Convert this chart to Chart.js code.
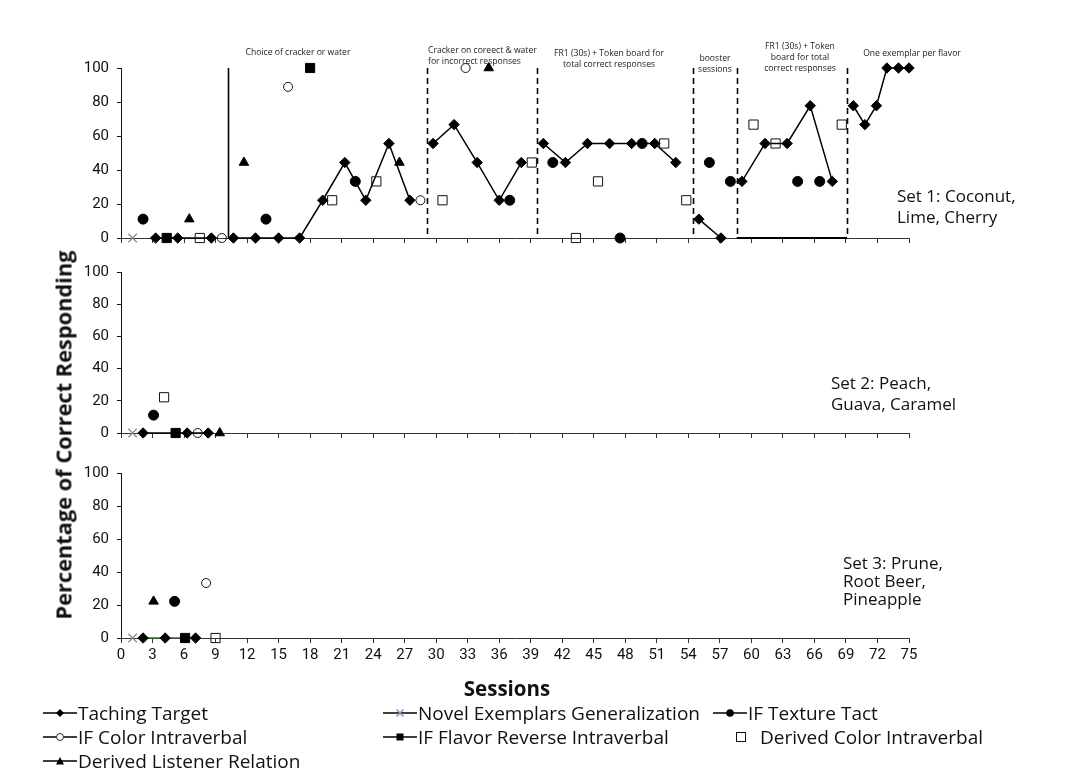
<!DOCTYPE html>
<html>
<head>
<meta charset="utf-8">
<script src="https://cdn.jsdelivr.net/npm/chart.js@4.4.0/dist/chart.umd.min.js"></script>
<style>
  html, body { margin: 0; padding: 0; background: #fff; }
  body { width: 1075px; height: 782px; position: relative; overflow: hidden; font-family: 'Open Sans', sans-serif; color: #111; }
  canvas.panel { position: absolute; left: 0; top: 0; }
  .note { position: absolute; font-size: 8.6px; line-height: 11px; white-space: nowrap; color: #222; }
  .note.c { transform: translateX(-50%); text-align: center; }
  .setlabel { position: absolute; font-size: 17px; line-height: 21px; white-space: nowrap; color: #111; }
  .ytitle { position: absolute; left: 63px; top: 435px; transform: translate(-50%, -50%) rotate(-90deg); font-weight: 700; font-size: 21.8px; white-space: nowrap; }
  .xtitle { position: absolute; left: 507px; top: 688px; transform: translate(-50%, -50%); font-weight: 700; font-size: 20.5px; white-space: nowrap; }
  .leg { position: absolute; display: flex; align-items: center; font-size: 19px; white-space: nowrap; height: 24px; }
  .leg svg { display: block; margin-right: 1px; }
</style>
</head>
<body>
<canvas id="set1" class="panel" width="1075" height="782"></canvas>
<canvas id="set2" class="panel" width="1075" height="782"></canvas>
<canvas id="set3" class="panel" width="1075" height="782"></canvas>

<div class="note c" style="left:298px;top:47px;">Choice of cracker or water</div>
<div class="note" style="left:428px;top:45px;">Cracker on coreect &amp; water<br>for incorrect responses</div>
<div class="note c" style="left:609px;top:48px;">FR1 (30s) + Token board for<br>total correct responses</div>
<div class="note c" style="left:715px;top:53px;">booster<br>sessions</div>
<div class="note c" style="left:800px;top:41px;">FR1 (30s) + Token<br>board for total<br>correct responses</div>
<div class="note c" style="left:912px;top:48px;">One exemplar per flavor</div>

<div class="setlabel" style="left:897px;top:185px;">Set 1: Coconut,<br>Lime, Cherry</div>
<div class="setlabel" style="left:831px;top:372px;">Set 2: Peach,<br>Guava, Caramel</div>
<div class="setlabel" style="left:843px;top:554px;line-height:18px;">Set 3: Prune,<br>Root Beer,<br>Pineapple</div>

<div class="ytitle">Percentage of Correct Responding</div>
<div class="xtitle">Sessions</div>

<div id="legend"></div>

<script>
// ---- axes ----
const sessionMin = 0, sessionMax = 75, sessionStep = 3;
const pctMin = 0, pctMax = 100, pctStep = 20;

// Phase changes in Set 1 (first one is the solid line, rest dashed)
const phaseChanges = [10.2, 29.1, 39.6, 54.4, 58.6, 69.1];

// ---- Set 1: Coconut, Lime, Cherry ----
const s1TargetX = [3.3, 5.4, 8.6, 10.7, 12.8, 15.0, 17.0, 19.2, 21.3, 23.3, 25.5, 27.5,
                   29.7, 31.7, 33.9, 36.0, 38.1,
                   40.2, 42.3, 44.4, 46.5, 48.6, 50.8, 52.8,
                   55.0, 57.1,
                   59.1, 61.3, 63.4, 65.6, 67.7,
                   69.7, 70.8, 71.9, 72.9, 74.0, 75.0];
const s1TargetY = [0, 0, 0, 0, 0, 0, 0, 22.2, 44.4, 22.2, 55.6, 22.2,
                   55.6, 66.7, 44.4, 22.2, 44.4,
                   55.6, 44.4, 55.6, 55.6, 55.6, 55.6, 44.4,
                   11.1, 0,
                   33.3, 55.6, 55.6, 77.8, 33.3,
                   77.8, 66.7, 77.8, 100, 100, 100];
const s1NovelX = [1.1];
const s1NovelY = [0];
const s1TextureX = [2.1, 13.8, 22.3, 37.0, 41.1, 47.5, 49.6, 56.0, 58.0, 64.4, 66.5];
const s1TextureY = [11.1, 11.1, 33.3, 22.2, 44.4, 0, 55.6, 44.4, 33.3, 33.3, 33.3];
const s1ColorIVX = [9.6, 15.9, 28.5, 32.8];
const s1ColorIVY = [0, 88.9, 22.2, 100];
const s1FlavorRevX = [4.35, 18.0];
const s1FlavorRevY = [0, 100];
const s1DerivedColorX = [7.5, 20.1, 24.3, 30.6, 39.1, 43.3, 45.4, 51.7, 53.8, 60.2, 62.3, 68.6];
const s1DerivedColorY = [0, 22.2, 33.3, 22.2, 44.4, 0, 33.3, 55.6, 22.2, 66.7, 55.6, 66.7];
const s1ListenerX = [6.5, 11.7, 26.5, 35.0];
const s1ListenerY = [11.1, 44.4, 44.4, 100];

// ---- Set 2: Peach, Guava, Caramel ----
const s2TargetX = [2.1, 6.3, 8.3];
const s2TargetY = [0, 0, 0];
const s2NovelX = [1.1];
const s2NovelY = [0];
const s2TextureX = [3.1];
const s2TextureY = [11.1];
const s2ColorIVX = [7.3];
const s2ColorIVY = [0];
const s2FlavorRevX = [5.2];
const s2FlavorRevY = [0];
const s2DerivedColorX = [4.1];
const s2DerivedColorY = [22.2];
const s2ListenerX = [9.4];
const s2ListenerY = [0];

// ---- Set 3: Prune, Root Beer, Pineapple ----
const s3TargetX = [2.1, 4.2, 7.1];
const s3TargetY = [0, 0, 0];
const s3NovelX = [1.1];
const s3NovelY = [0];
const s3TextureX = [5.1];
const s3TextureY = [22.2];
const s3ColorIVX = [8.1];
const s3ColorIVY = [33.3];
const s3FlavorRevX = [6.1];
const s3FlavorRevY = [0];
const s3DerivedColorX = [9.0];
const s3DerivedColorY = [0];
const s3ListenerX = [3.1];
const s3ListenerY = [22.2];

const seriesNames = ['Taching Target', 'Novel Exemplars Generalization', 'IF Texture Tact',
  'IF Color Intraverbal', 'IF Flavor Reverse Intraverbal', 'Derived Color Intraverbal',
  'Derived Listener Relation'];

// ---- marker styles ----
const NONE = 'rgba(0,0,0,0)';
const XBLUE = '#6f8fb8';
const markerStyle = [
  { pointStyle: 'rectRot',  radius: 5.2, bg: '#000', border: '#000', bw: 1 },
  { pointStyle: 'crossRot', radius: 6,   bg: NONE,   border: '#7d8898', bw: 1.2 },
  { pointStyle: 'circle',   radius: 5,   bg: '#000', border: '#000', bw: 1 },
  { pointStyle: 'circle',   radius: 4.5, bg: NONE,   border: '#111', bw: 1 },
  { pointStyle: 'rect',     radius: 6.5, bg: '#000', border: '#000', bw: 1 },
  { pointStyle: 'rect',     radius: 6.5, bg: NONE,   border: '#111', bw: 1 },
  { pointStyle: 'triangle', radius: 5.5, bg: '#000', border: '#000', bw: 1 }
];

const zip = (xs, ys) => xs.map((x, i) => ({ x: x, y: ys[i] }));
const crossesPhase = (a, b) => phaseChanges.some(p => (a - p) * (b - p) < 0);

function buildDatasets(pairs, lineColor) {
  return pairs.map((pr, i) => {
    const m = markerStyle[i];
    const ds = {
      label: seriesNames[i],
      data: zip(pr[0], pr[1]),
      pointStyle: m.pointStyle,
      pointRadius: m.radius,
      pointHoverRadius: m.radius,
      pointBackgroundColor: m.bg,
      pointBorderColor: m.border,
      pointBorderWidth: m.bw,
      showLine: i === 0,
      borderColor: i === 0 ? lineColor : '#000',
      borderWidth: 1.5,
      clip: false,
      order: i === 0 ? 1 : 0
    };
    if (i === 0) {
      ds.segment = { borderColor: c => crossesPhase(c.p0.parsed.x, c.p1.parsed.x) ? NONE : undefined };
    }
    return ds;
  });
}

// dividers for the Set 1 conditions
const phasePlugin = {
  id: 'phaseLines',
  beforeDatasetsDraw(chart) {
    const { ctx, chartArea, scales } = chart;
    const x = scales.x, y = scales.y;
    const base = y.getPixelForValue(0);
    ctx.save();
    ctx.strokeStyle = '#000';
    phaseChanges.forEach((p, i) => {
      const px = Math.round(x.getPixelForValue(p)) + 0.5;
      ctx.lineWidth = 1.6;
      ctx.setLineDash(i === 0 ? [] : [6, 4]);
      ctx.beginPath();
      ctx.moveTo(px, chartArea.top);
      ctx.lineTo(px, base);
      ctx.stroke();
    });
    // floor under the second token-board condition
    ctx.setLineDash([]);
    ctx.lineWidth = 2;
    const a = x.getPixelForValue(phaseChanges[4]);
    const b = x.getPixelForValue(phaseChanges[5]);
    ctx.beginPath();
    ctx.moveTo(a, base);
    ctx.lineTo(b, base);
    ctx.stroke();
    ctx.restore();
  }
};

const W = 1075, H = 782, LEFT = 121, RIGHT = 909;
const tickFont = { family: 'Roboto, "DejaVu Sans", sans-serif', size: 15 };

function makePanel(id, top, bottom, datasets, showX, plugins) {
  const xh = showX ? 30 : 6;
  return new Chart(document.getElementById(id), {
    type: 'scatter',
    data: { datasets: datasets },
    plugins: plugins || [],
    options: {
      responsive: false,
      animation: false,
      events: [],
      layout: { padding: { left: 0, top: top, right: W - RIGHT, bottom: H - bottom - xh } },
      plugins: { legend: { display: false }, tooltip: { enabled: false } },
      scales: {
        x: {
          type: 'linear',
          min: sessionMin, max: sessionMax,
          afterFit: s => { s.height = xh; },
          border: { display: true, color: '#333', width: 1 },
          grid: { display: true, drawOnChartArea: false, drawTicks: true, tickLength: 5, color: '#333', lineWidth: 1 },
          ticks: {
            display: showX, stepSize: sessionStep, autoSkip: false, maxRotation: 0, padding: 3,
            color: '#111', font: tickFont,
            callback: v => String(v)
          }
        },
        y: {
          type: 'linear',
          min: pctMin, max: pctMax,
          afterFit: s => { s.width = LEFT; },
          border: { display: true, color: '#111', width: 1 },
          grid: { display: true, drawOnChartArea: false, drawTicks: true, tickLength: 4, color: '#111', lineWidth: 1 },
          ticks: { stepSize: pctStep, padding: 8, color: '#111', font: tickFont }
        }
      }
    }
  });
}

makePanel('set1', 68, 238, buildDatasets([
  [s1TargetX, s1TargetY], [s1NovelX, s1NovelY], [s1TextureX, s1TextureY],
  [s1ColorIVX, s1ColorIVY], [s1FlavorRevX, s1FlavorRevY],
  [s1DerivedColorX, s1DerivedColorY], [s1ListenerX, s1ListenerY]
], '#000'), false, [phasePlugin]);

makePanel('set2', 272, 433, buildDatasets([
  [s2TargetX, s2TargetY], [s2NovelX, s2NovelY], [s2TextureX, s2TextureY],
  [s2ColorIVX, s2ColorIVY], [s2FlavorRevX, s2FlavorRevY],
  [s2DerivedColorX, s2DerivedColorY], [s2ListenerX, s2ListenerY]
], '#000'), false);

makePanel('set3', 473, 638, buildDatasets([
  [s3TargetX, s3TargetY], [s3NovelX, s3NovelY], [s3TextureX, s3TextureY],
  [s3ColorIVX, s3ColorIVY], [s3FlavorRevX, s3FlavorRevY],
  [s3DerivedColorX, s3DerivedColorY], [s3ListenerX, s3ListenerY]
], '#2f6a2f'), true);

// ---- legend ----
function legendIcon(i) {
  const w = 34, h = 14;
  let line = '<line x1="0" y1="7" x2="' + w + '" y2="7" stroke="#000" stroke-width="1.6"/>';
  let mark = '';
  switch (i) {
    case 0: mark = '<polygon points="17,3 21,7 17,11 13,7" fill="#000"/>'; break;
    case 1: mark = '<path d="M13.5,3.5 L20.5,10.5 M20.5,3.5 L13.5,10.5" stroke="' + XBLUE + '" stroke-width="1.2"/>'; break;
    case 2: mark = '<circle cx="17" cy="7" r="3.8" fill="#000"/>'; break;
    case 3: mark = '<circle cx="17" cy="7" r="3.5" fill="#fff" stroke="#333" stroke-width="1"/>'; break;
    case 4: mark = '<rect x="13.5" y="3.5" width="7" height="7" fill="#000"/>'; break;
    case 5: line = ''; mark = '<rect x="12.5" y="2.5" width="9" height="9" fill="#fff" stroke="#111" stroke-width="1"/>'; break;
    case 6: mark = '<polygon points="17,3 21,10.5 13,10.5" fill="#000"/>'; break;
  }
  return '<svg width="' + w + '" height="' + h + '" viewBox="0 0 ' + w + ' ' + h + '">' + line + mark + '</svg>';
}
const legendSlots = [
  [43, 713], [383, 713], [713, 713],
  [43, 737], [383, 737], [724, 737],
  [43, 761]
];
const legendEl = document.getElementById('legend');
seriesNames.forEach((name, i) => {
  const d = document.createElement('div');
  d.className = 'leg';
  d.style.left = legendSlots[i][0] + 'px';
  d.style.top = (legendSlots[i][1] - 12) + 'px';
  d.innerHTML = legendIcon(i) + '<span' + (i === 5 ? ' style="margin-left:1px"' : '') + '>' + name + '</span>';
  legendEl.appendChild(d);
});
</script>
</body>
</html>
